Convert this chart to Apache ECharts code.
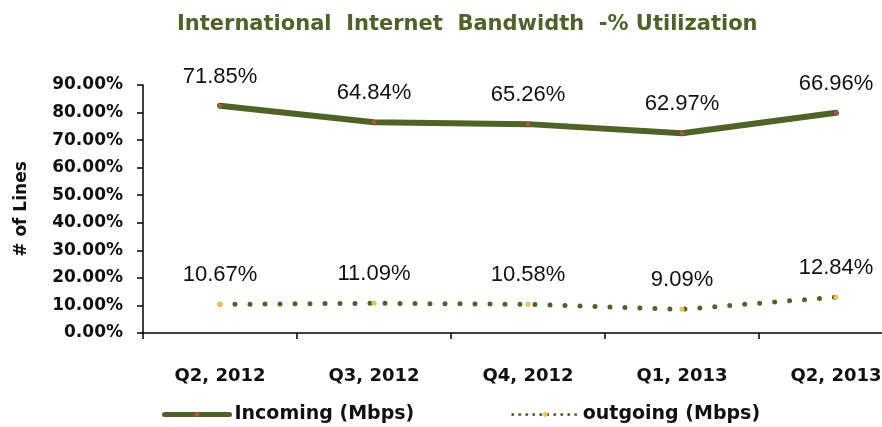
<!DOCTYPE html>
<html>
<head>
<meta charset="utf-8">
<title>International Internet Bandwidth</title>
<script src="https://cdn.jsdelivr.net/npm/echarts@6/dist/echarts.min.js"></script>
<style>
  html, body { margin: 0; padding: 0; background: #fff; overflow: hidden; }
  #chart { width: 882px; height: 427px; }
</style>
</head>
<body>
<div id="chart"></div>
<script>
// quarters on the x axis
const quarters = ["Q2, 2012", "Q3, 2012", "Q4, 2012", "Q1, 2013", "Q2, 2013"];
// plotted positions (%)
const incoming = [82.5, 76.5, 75.8, 72.5, 79.9];
const outgoing = [10.4, 10.8, 10.4, 8.6, 13.0];
// the text labels printed over each point
const incomingLabels = ["71.85%", "64.84%", "65.26%", "62.97%", "66.96%"];
const outgoingLabels = ["10.67%", "11.09%", "10.58%", "9.09%", "12.84%"];
const yTicks = [0, 10, 20, 30, 40, 50, 60, 70, 80, 90];

const green = "#4f6228";
const boldFont = "DejaVu Sans";

let chart = echarts.init(document.getElementById("chart"));

const pointLabel = (texts) => ({
  show: true,
  position: "top",
  distance: 16,
  fontFamily: "Liberation Sans",
  fontSize: 22,
  color: "#111",
  formatter: (p) => texts[p.dataIndex]
});

chart.setOption({
  animation: false,
  title: {
    text: "International  Internet  Bandwidth  -% Utilization",
    left: 172,
    top: 9,
    textStyle: { fontFamily: boldFont, fontWeight: "bold", fontSize: 21, color: green }
  },
  // plot runs past the right edge of the picture, as in the original
  grid: { left: 143, width: 770, top: 85, bottom: 94, outerBoundsMode: "none" },
  legend: {
    left: 157,
    top: 400,
    itemWidth: 65,
    itemHeight: 6,
    itemGap: 97,
    textStyle: { fontFamily: boldFont, fontWeight: "bold", fontSize: 19, color: "#111" },
    data: [
      { name: "Incoming (Mbps)", lineStyle: { width: 5 } },
      { name: "outgoing (Mbps)", lineStyle: { width: 3, type: [0, 7] } }
    ]
  },
  xAxis: {
    type: "category",
    data: quarters,
    boundaryGap: true,
    axisLine: { lineStyle: { color: "#000", width: 1.5 } },
    axisTick: { show: true, length: 6, lineStyle: { color: "#000", width: 1.5 } },
    axisLabel: {
      margin: 34,
      fontFamily: boldFont, fontWeight: "bold", fontSize: 18, color: "#111"
    }
  },
  yAxis: {
    type: "value",
    min: yTicks[0],
    max: yTicks[yTicks.length - 1],
    interval: 10,
    name: "# of Lines",
    nameLocation: "middle",
    nameRotate: 90,
    nameGap: 113,
    nameTextStyle: { fontFamily: boldFont, fontWeight: "bold", fontSize: 17, color: "#111" },
    splitLine: { show: false },
    axisLine: { show: true, lineStyle: { color: "#000", width: 1.5 } },
    axisTick: { show: true, length: 6, lineStyle: { color: "#000", width: 1.5 } },
    axisLabel: {
      margin: 20,
      fontFamily: boldFont, fontWeight: "bold", fontSize: 17, color: "#111",
      formatter: (v) => v.toFixed(2) + "%"
    }
  },
  series: [
    {
      name: "Incoming (Mbps)",
      type: "line",
      data: incoming,
      symbol: "circle",
      symbolSize: 4,
      itemStyle: { color: "#c0504d" },
      lineStyle: { color: green, width: 6, cap: "round" },
      label: pointLabel(incomingLabels)
    },
    {
      name: "outgoing (Mbps)",
      type: "line",
      data: outgoing,
      symbol: "circle",
      symbolSize: 5,
      itemStyle: { color: "#f2c14e" },
      lineStyle: { color: green, width: 5, type: [0, 15], cap: "round" },
      label: pointLabel(outgoingLabels)
    }
  ]
});
</script>
</body>
</html>
